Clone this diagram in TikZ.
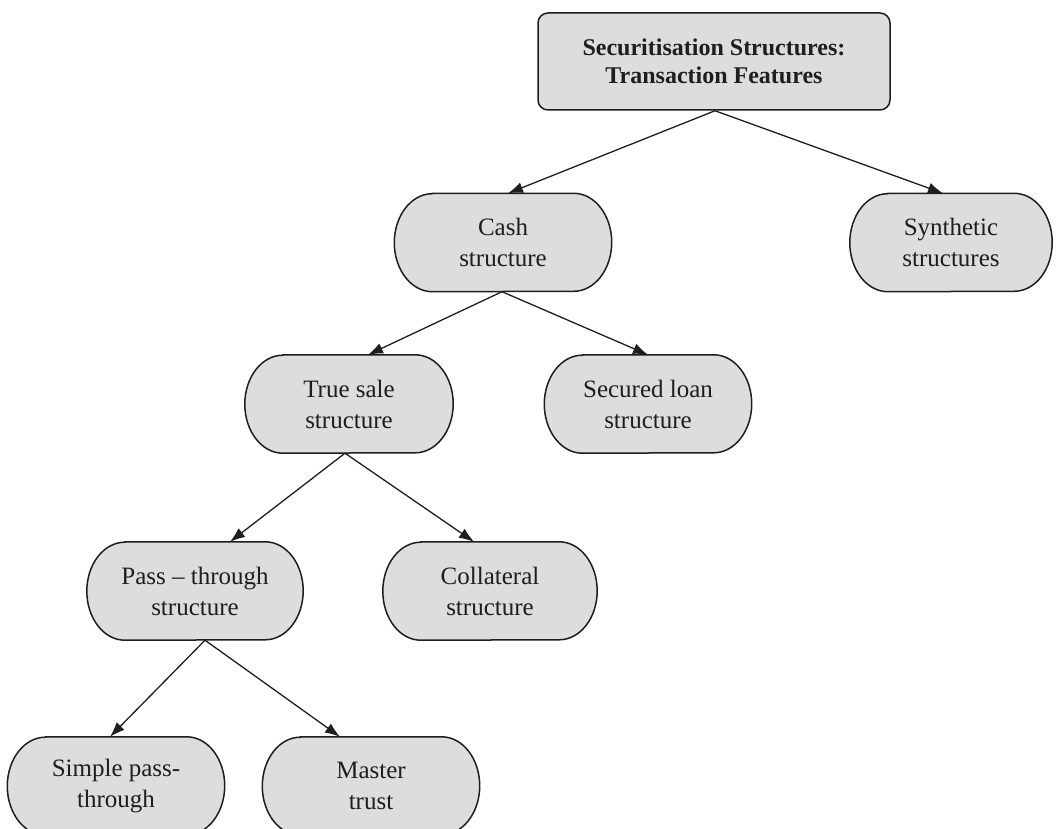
\documentclass[tikz,border=0pt]{standalone}
\usepackage{fontspec}
\setmainfont{Liberation Serif}
\usetikzlibrary{arrows.meta,calc,backgrounds}
\definecolor{boxfill}{RGB}{220,221,223}
\definecolor{ink}{RGB}{30,30,30}
\tikzset{
  box/.style={align=center, inner sep=0pt, minimum height=98pt, text=ink,
    font=\fontsize{25}{31}\selectfont},
  capsule/.style={draw=ink, line width=1.5pt, fill=boxfill},
  rootbox/.style={draw=ink, line width=1.5pt, fill=boxfill, rounded corners=10pt,
    align=center, inner sep=0pt, minimum height=97pt, text=ink,
    font=\bfseries\fontsize{24}{28}\selectfont},
  arr/.style={draw=ink, line width=1.3pt, -{Latex[length=15pt,width=11pt]}}
}
\begin{document}
\begin{tikzpicture}[x=1pt,y=-1pt]
\useasboundingbox (0,0) rectangle (1058,829);
\clip (0,0) rectangle (1058,829);
\node[rootbox, minimum width=352pt] (root) at (714,61.5) {Securitisation Structures:\\Transaction Features};
\node[box, minimum width=217pt] (cash) at (503,242.5) {Cash\\structure};
\node[box, minimum width=202pt] (syn) at (951,242.5) {Synthetic\\structures};
\node[box, minimum width=208pt] (true) at (349,404) {True sale\\structure};
\node[box, minimum width=207pt] (sec) at (648,404) {Secured loan\\structure};
\node[box, minimum width=216pt] (pass) at (195,591) {Pass -- through\\structure};
\node[box, minimum width=214pt] (coll) at (490,591) {Collateral\\structure};
\node[box, minimum width=217pt] (simple) at (116,786) {Simple pass-\\through};
\node[box, minimum width=217pt] (master) at (371,786) {Master\\trust};
\begin{scope}[on background layer]
\foreach \n in {cash,syn,true,sec,pass,coll,simple,master}{
  \path[capsule] ($(\n.north west)+(38,0)$) -- ($(\n.north east)+(-38,0)$)
    arc[start angle=90, end angle=-90, x radius=38pt, y radius=49pt]
    -- ($(\n.south west)+(38,0)$)
    arc[start angle=270, end angle=90, x radius=38pt, y radius=49pt] -- cycle;
}
\end{scope}
\draw[arr] ($(root.south)+(1,0)$) -- ($(cash.north)+(5,0)$);
\draw[arr] ($(root.south)+(1,0)$) -- ($(syn.north)+(-8,0)$);
\draw[arr] ($(cash.south)+(-1,0)$) -- ($(true.north)+(19,0)$);
\draw[arr] ($(cash.south)+(-1,0)$) -- (sec.north);
\draw[arr] ($(true.south)+(-4,0)$) -- ($(pass.north)+(35,0)$);
\draw[arr] ($(true.south)+(-4,0)$) -- ($(coll.north)+(-16,0)$);
\draw[arr] ($(pass.south)+(10,0)$) -- ($(simple.north)+(-6,0)$);
\draw[arr] ($(pass.south)+(10,0)$) -- ($(master.north)+(-31,0)$);
\end{tikzpicture}
\end{document}
